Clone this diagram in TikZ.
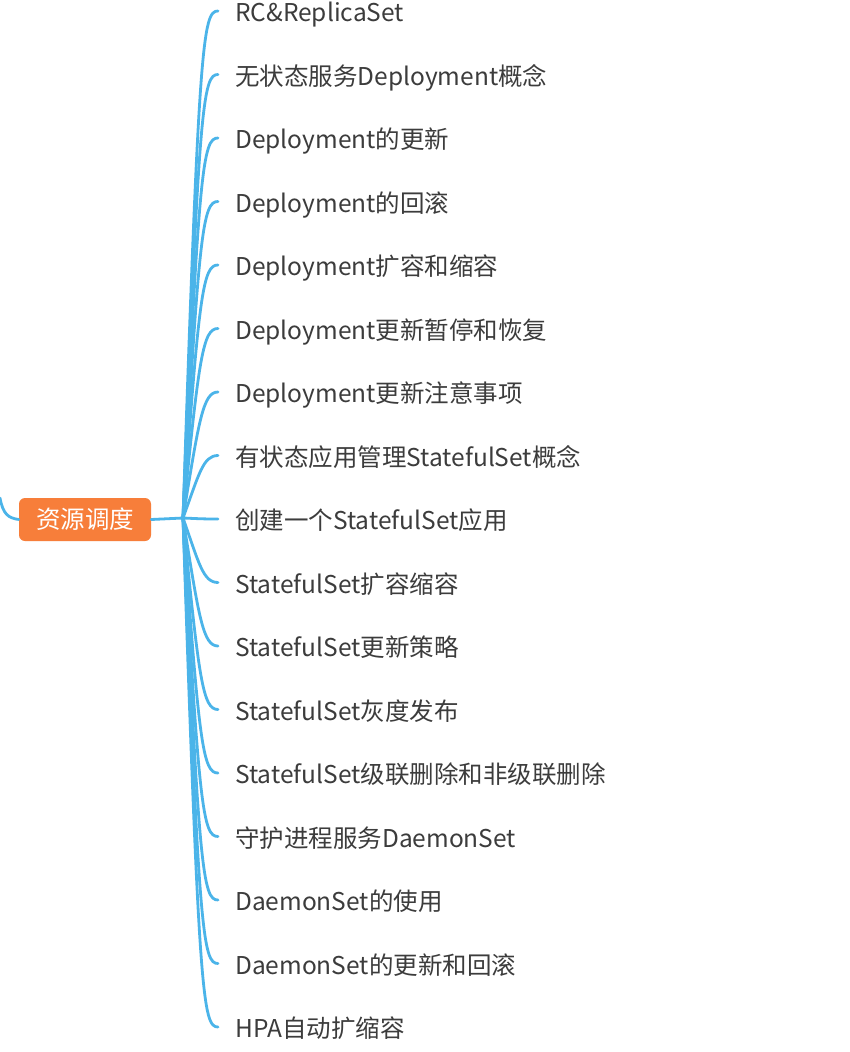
\documentclass[tikz,border=0pt]{standalone}
\usepackage{fontspec}
\setmainfont{Noto Sans CJK SC}
\definecolor{lineblue}{HTML}{4BB4E9}
\definecolor{rootorange}{HTML}{F77E3A}
\definecolor{textgray}{HTML}{3C3C3C}
\begin{document}
\begin{tikzpicture}[x=1pt,y=-1pt,
  branch/.style={draw=lineblue, line width=2.8pt, line cap=round},
  topic/.style={anchor=west, inner sep=0pt, text=textgray, text height=0.88em, text depth=0.12em, font=\fontsize{24.5}{24.5}\selectfont},
  rootbox/.style={fill=rootorange, rounded corners=6pt, minimum width=132pt, minimum height=43pt, text=white, inner sep=0pt, text height=0.88em, text depth=0.12em, font=\fontsize{24.5}{24.5}\selectfont}]
\useasboundingbox[fill=white] (0,0) rectangle (850,1052);
\node[rootbox] (root) at (85,519.5) {\raisebox{-5pt}{资源调度}};
\coordinate (in) at (0,498);
\coordinate (hub) at (183,518);
\draw[branch] (in) .. controls (3,514) and (8,518) .. (root.west);
\draw[branch] (root.east) -- (hub);
\foreach \t [count=\i] in {RC\&ReplicaSet,无状态服务Deployment概念,Deployment的更新,Deployment的回滚,Deployment扩容和缩容,Deployment更新暂停和恢复,Deployment更新注意事项,有状态应用管理StatefulSet概念,创建一个StatefulSet应用,StatefulSet扩容缩容,StatefulSet更新策略,StatefulSet灰度发布,StatefulSet级联删除和非级联删除,守护进程服务DaemonSet,DaemonSet的使用,DaemonSet的更新和回滚,HPA自动扩缩容} {
  \pgfmathsetmacro\yy{14+63.5*(\i-1)}
  \pgfmathsetmacro\ty{\yy-3}
  \pgfmathsetmacro\dd{518-\ty}
  \pgfmathsetmacro\ss{min(28,abs(\dd)*0.3)*sign(\dd)}
  \node[topic] (n\i) at (235,\yy+4) {\t};
  \coordinate (e\i) at (218,\ty);
  \draw[branch] (hub) .. controls (199,\ty+\ss) and (203,\ty) .. (e\i);
}
\end{tikzpicture}
\end{document}
